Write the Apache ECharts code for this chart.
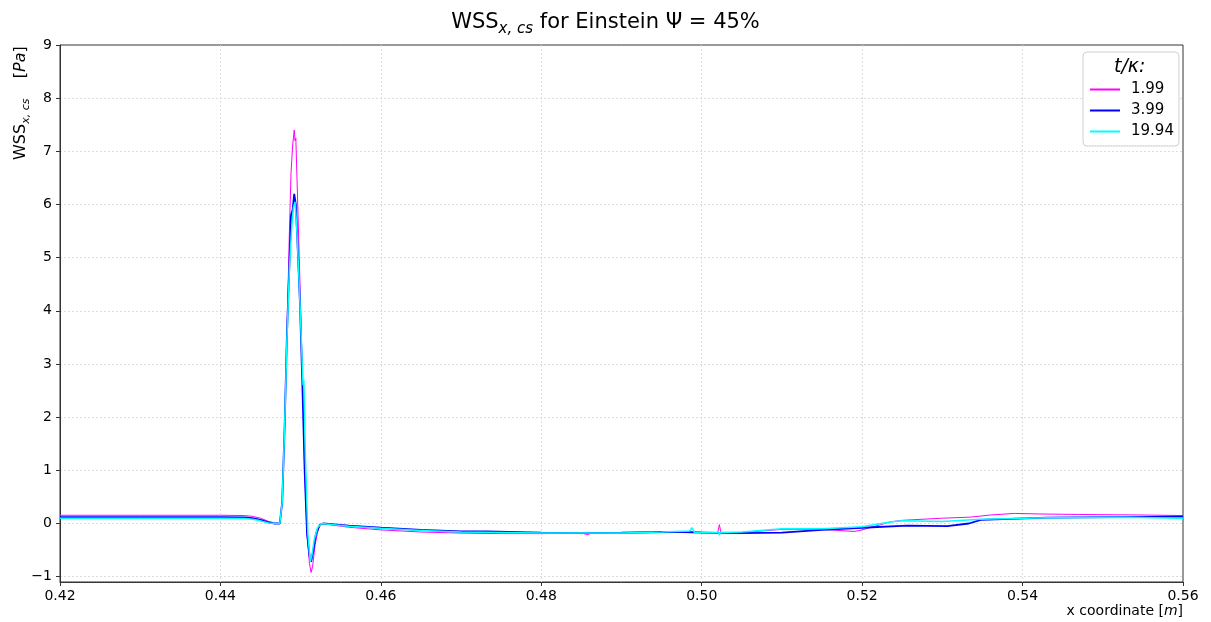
<!DOCTYPE html>
<html>
<head>
<meta charset="utf-8">
<script src="https://cdn.jsdelivr.net/npm/echarts@6/dist/echarts.min.js"></script>
<style>
html, body { margin: 0; padding: 0; background: #fff; }
#main { width: 1211px; height: 622px; }
</style>
</head>
<body>
<div id="main"></div>
<script>
// x [m], WSS [Pa], one list per t/kappa
var names = ['1.99', '3.99', '19.94'];
var colors = ['#ff00ff', '#0000ff', '#00ffff'];
var widths = [1, 1.8, 1.5];

var wss199 = [
	[0.420, 0.155], [0.430, 0.155], [0.440, 0.155], [0.443, 0.15], [0.444, 0.135], [0.445, 0.10],
	[0.446, 0.04], [0.4468, 0.01], [0.4474, 0.0], [0.4477, 0.4], [0.4480, 1.8], [0.4483, 3.6],
	[0.4486, 5.5], [0.4488, 6.6], [0.4490, 7.1], [0.4492, 7.4], [0.4493, 7.2], [0.4494, 7.25],
	[0.4496, 6.2], [0.4499, 4.6], [0.4502, 2.9], [0.4505, 1.0], [0.4508, -0.2], [0.4511, -0.75],
	[0.4513, -0.92], [0.4515, -0.8], [0.4518, -0.4], [0.4522, -0.1], [0.4526, 0.0], [0.4540, -0.03],
	[0.4560, -0.07], [0.4600, -0.12], [0.4650, -0.16], [0.4700, -0.18], [0.4750, -0.19], [0.4800, -0.19],
	[0.4850, -0.18], [0.4858, -0.21], [0.4862, -0.18], [0.4900, -0.18], [0.4950, -0.17], [0.5000, -0.16],
	[0.5020, -0.17], [0.5022, -0.02], [0.5024, -0.17], [0.5050, -0.17], [0.5100, -0.11], [0.5150, -0.11],
	[0.5190, -0.15], [0.5200, -0.12], [0.5235, 0.03], [0.5250, 0.06], [0.5300, 0.10], [0.5335, 0.12],
	[0.5360, 0.16], [0.5390, 0.19], [0.5420, 0.18], [0.5470, 0.17], [0.5550, 0.16], [0.5600, 0.15]
];

var wss399 = [
	[0.420, 0.12], [0.440, 0.12], [0.443, 0.115], [0.444, 0.10], [0.445, 0.07], [0.446, 0.02],
	[0.4468, 0.0], [0.4474, 0.0], [0.4477, 0.4], [0.4480, 1.8], [0.4483, 3.6], [0.4486, 4.9],
	[0.4488, 5.8], [0.4490, 5.9], [0.4492, 6.2], [0.4494, 6.0], [0.4496, 5.3], [0.4499, 4.2],
	[0.4502, 2.7], [0.4505, 1.0], [0.4508, -0.2], [0.4511, -0.6], [0.4513, -0.72], [0.4516, -0.5],
	[0.4519, -0.2], [0.4524, -0.02], [0.4528, 0.0], [0.4560, -0.04], [0.4600, -0.08], [0.4650, -0.12],
	[0.4700, -0.15], [0.4732, -0.15], [0.4733, -0.12], [0.4734, -0.15], [0.4800, -0.17], [0.4848, -0.18],
	[0.4849, -0.15], [0.4850, -0.18], [0.4900, -0.17], [0.4950, -0.16], [0.4977, -0.16], [0.4978, -0.13],
	[0.4979, -0.16], [0.5000, -0.17], [0.5050, -0.18], [0.5100, -0.17], [0.5150, -0.12], [0.5200, -0.08],
	[0.5256, -0.04], [0.5306, -0.05], [0.5333, 0.0], [0.5348, 0.07], [0.5431, 0.11], [0.5600, 0.13]
];

var wss1994 = [
	[0.420, 0.10], [0.440, 0.10], [0.443, 0.095], [0.444, 0.08], [0.445, 0.05], [0.446, 0.01],
	[0.4474, 0.0], [0.4477, 0.4], [0.4480, 1.8], [0.4483, 3.5], [0.4486, 4.8], [0.4489, 5.6],
	[0.4491, 5.95], [0.4493, 6.05], [0.4495, 5.6], [0.4498, 4.6], [0.4501, 3.4], [0.4503, 2.6],
	[0.4504, 2.7], [0.4506, 1.2], [0.4509, -0.2], [0.4512, -0.72], [0.4514, -0.6], [0.4517, -0.3],
	[0.4521, -0.08], [0.4526, 0.0], [0.4560, -0.05], [0.4600, -0.09], [0.4650, -0.13], [0.4700, -0.16],
	[0.4800, -0.18], [0.4850, -0.18], [0.4900, -0.18], [0.4950, -0.16], [0.4985, -0.14], [0.4988, -0.08],
	[0.4991, -0.17], [0.5000, -0.17], [0.5021, -0.17], [0.5022, -0.22], [0.5023, -0.17], [0.5050, -0.16],
	[0.5100, -0.10], [0.5150, -0.10], [0.5200, -0.06], [0.5235, 0.03], [0.5250, 0.05], [0.5300, 0.04],
	[0.5348, 0.08], [0.5431, 0.11], [0.5530, 0.12], [0.5600, 0.10]
];

var allData = [wss199, wss399, wss1994];
var font = 'DejaVu Sans';

var chart = echarts.init(document.getElementById('main'));

var series = [];
for (var i = 0; i < names.length; i++) {
	series.push({
		name: names[i],
		type: 'line',
		data: allData[i],
		symbol: 'none',
		animation: false,
		lineStyle: { color: colors[i], width: widths[i] },
		itemStyle: { color: colors[i] }
	});
}

var gridLine = { show: true, showMinLine: false, showMaxLine: false, lineStyle: { color: '#dcdcdc', type: [2, 2], width: 1 } };

chart.setOption({
	backgroundColor: '#fff',
	animation: false,
	title: {
		left: 'center',
		top: 2,
		text: '{a|WSS}{s|x, cs}{a| for Einstein Ψ = 45%}',
		textStyle: {
			rich: {
				a: { fontFamily: font, fontSize: 21, fontWeight: 'normal', color: '#000', lineHeight: 26, verticalAlign: 'bottom' },
				s: { fontFamily: font, fontSize: 15, fontWeight: 'normal', fontStyle: 'italic', color: '#000', lineHeight: 20, verticalAlign: 'bottom', padding: [0, 0, -4, 0] }
			}
		}
	},
	grid: {
		left: 60, right: 28, top: 45, bottom: 40,
		show: true, borderColor: '#333', borderWidth: 1
	},
	legend: {
		data: names,
		orient: 'vertical',
		left: 1083,
		top: 52,
		padding: [30, 5, 7, 6],
		itemWidth: 30,
		itemHeight: 14,
		itemGap: 6,
		itemStyle: { opacity: 0 },
		backgroundColor: '#fff',
		borderColor: '#d0d0d0',
		borderWidth: 1,
		borderRadius: 4,
		textStyle: { fontFamily: font, fontSize: 15, color: '#000', width: 41, padding: [0, 0, 0, 6] }
	},
	xAxis: {
		type: 'value',
		min: 0.42,
		max: 0.56,
		interval: 0.02,
		axisLine: { show: true, onZero: false, lineStyle: { color: '#333' } },
		axisTick: { show: true, length: 4, lineStyle: { color: '#333' } },
		axisLabel: {
			fontFamily: font, fontSize: 14, color: '#000', margin: 7,
			formatter: function (v) { return v.toFixed(2); }
		},
		splitLine: gridLine
	},
	yAxis: {
		type: 'value',
		min: -1.1,
		max: 9,
		splitNumber: 10,
		axisLine: { show: true, onZero: false, lineStyle: { color: '#333' } },
		axisTick: { show: true, length: 4, lineStyle: { color: '#333' } },
		axisLabel: {
			fontFamily: font, fontSize: 14, color: '#000', margin: 8, showMinLabel: false,
			formatter: function (v) { return v < 0 ? '\u2212' + Math.abs(v) : String(v); }
		},
		splitLine: gridLine
	},
	graphic: [
		{
			type: 'text',
			x: 19, y: 160,
			rotation: Math.PI / 2,
			style: {
				text: '{a|WSS}{s|x, cs}{a|    [}{i|Pa}{a|]}',
				textAlign: 'left',
				textVerticalAlign: 'middle',
				rich: {
					a: { fontFamily: font, fontSize: 16, fill: '#000', verticalAlign: 'bottom', lineHeight: 20 },
					i: { fontFamily: font, fontSize: 16, fontStyle: 'italic', fill: '#000', verticalAlign: 'bottom', lineHeight: 20 },
					s: { fontFamily: font, fontSize: 11, fontStyle: 'italic', fill: '#000', verticalAlign: 'bottom', lineHeight: 14, padding: [0, 0, -3, 0] }
				}
			}
		},
		{
			type: 'text',
			right: 28, top: 604,
			style: {
				text: '{a|x coordinate [}{i|m}{a|]}',
				rich: {
					a: { fontFamily: font, fontSize: 14, fill: '#000' },
					i: { fontFamily: font, fontSize: 14, fontStyle: 'italic', fill: '#000' }
				}
			}
		},
		{
			type: 'text',
			left: 1114, top: 58,
			z: 100,
			style: {
				text: 't/κ:',
				fontFamily: font, fontSize: 19, fontStyle: 'italic', fill: '#000'
			}
		}
	],
	series: series
});
</script>
</body>
</html>
